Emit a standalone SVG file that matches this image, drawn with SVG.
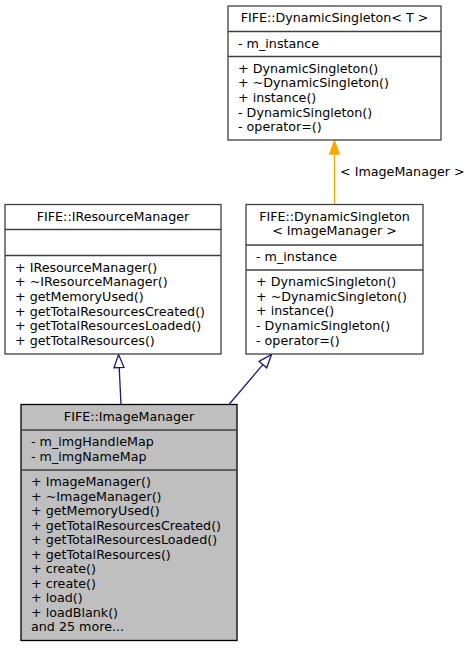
<svg xmlns="http://www.w3.org/2000/svg" width="472" height="648" viewBox="0 0 472 648">
<style>
text{font-family:"DejaVu Sans","Liberation Sans",sans-serif;font-size:12.7px;fill:#000}
.c{text-anchor:middle}
.box{fill:#fff;stroke:#404040;stroke-width:1.3}
.hl{fill:#bfbfbf;stroke:#000;stroke-width:1.3}
.sep{stroke:#404040;stroke-width:1.3}
.inh{stroke:#191970;stroke-width:1.3;fill:none}
.inhh{stroke:#191970;stroke-width:1.3;fill:#fff}
.tpl{stroke:#ffa500;stroke-width:1.3;fill:none}
.tplh{stroke:#ffa500;stroke-width:1.3;fill:#ffa500}
</style>
<rect width="472" height="648" fill="#fff"/>
<g id="connectors">
<path class="tpl" d="M334.5,204.5 V154"/>
<polygon class="tplh" points="334.5,141 339.2,154 329.8,154"/>
<text x="340" y="176">&lt; ImageManager &gt;</text>
<path class="inh" d="M121,404.5 L119.2,367.5"/>
<polygon class="inhh" points="118.5,354.5 124,367.3 114,367.7"/>
<path class="inh" d="M229,404.5 L262.9,364.6"/>
<polygon class="inhh" points="271.5,354.5 266.7,367.8 259.1,361.4"/>
</g>
<g id="node-DynamicSingletonT">
<rect class="box" x="228" y="6" width="213" height="134"/>
<line class="sep" x1="228" y1="31.5" x2="441" y2="31.5"/>
<line class="sep" x1="228" y1="56.5" x2="441" y2="56.5"/>
<text class="c" x="334.5" y="22">FIFE::DynamicSingleton&lt; T &gt;</text>
<text x="238" y="47.5">- m_instance</text>
<text x="238" y="72.5">+ DynamicSingleton()</text>
<text x="238" y="87.2">+ ~DynamicSingleton()</text>
<text x="238" y="101.8">+ instance()</text>
<text x="238" y="116.5">- DynamicSingleton()</text>
<text x="238" y="131.2">- operator=()</text>
</g>
<g id="node-IResourceManager">
<rect class="box" x="5" y="204.5" width="216" height="149.5"/>
<line class="sep" x1="5" y1="229.5" x2="221" y2="229.5"/>
<line class="sep" x1="5" y1="255.5" x2="221" y2="255.5"/>
<text class="c" x="113" y="220.5">FIFE::IResourceManager</text>
<text x="15" y="271.5">+ IResourceManager()</text>
<text x="15" y="286.2">+ ~IResourceManager()</text>
<text x="15" y="300.8">+ getMemoryUsed()</text>
<text x="15" y="315.5">+ getTotalResourcesCreated()</text>
<text x="15" y="330.2">+ getTotalResourcesLoaded()</text>
<text x="15" y="344.8">+ getTotalResources()</text>
</g>
<g id="node-DynamicSingletonImageManager">
<rect class="box" x="246" y="204.5" width="177" height="149.5"/>
<line class="sep" x1="246" y1="245" x2="423" y2="245"/>
<line class="sep" x1="246" y1="270" x2="423" y2="270"/>
<text class="c" x="334.5" y="220.5">FIFE::DynamicSingleton</text>
<text class="c" x="334.5" y="235.2">&lt; ImageManager &gt;</text>
<text x="256" y="261">- m_instance</text>
<text x="256" y="286">+ DynamicSingleton()</text>
<text x="256" y="300.7">+ ~DynamicSingleton()</text>
<text x="256" y="315.3">+ instance()</text>
<text x="256" y="330">- DynamicSingleton()</text>
<text x="256" y="344.7">- operator=()</text>
</g>
<g id="node-ImageManager">
<rect class="hl" x="21" y="404.5" width="216" height="236"/>
<line class="sep" x1="21" y1="430" x2="237" y2="430" stroke="#000"/>
<line class="sep" x1="21" y1="470" x2="237" y2="470" stroke="#000"/>
<text class="c" x="129" y="420.5">FIFE::ImageManager</text>
<text x="31" y="446">- m_imgHandleMap</text>
<text x="31" y="460.7">- m_imgNameMap</text>
<text x="31" y="486">+ ImageManager()</text>
<text x="31" y="500.5">+ ~ImageManager()</text>
<text x="31" y="515">+ getMemoryUsed()</text>
<text x="31" y="529.5">+ getTotalResourcesCreated()</text>
<text x="31" y="544">+ getTotalResourcesLoaded()</text>
<text x="31" y="558.5">+ getTotalResources()</text>
<text x="31" y="573">+ create()</text>
<text x="31" y="587.5">+ create()</text>
<text x="31" y="602">+ load()</text>
<text x="31" y="616.5">+ loadBlank()</text>
<text x="31" y="631">and 25 more...</text>
</g>
</svg>
